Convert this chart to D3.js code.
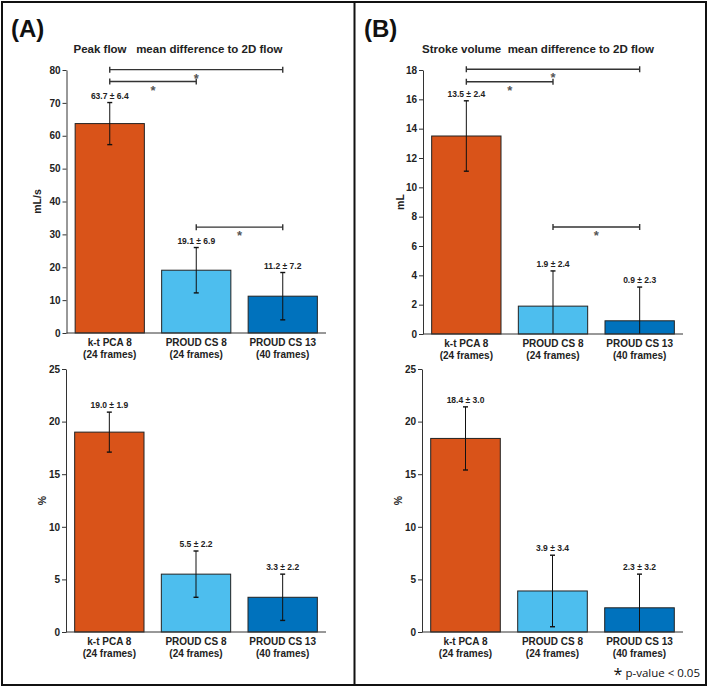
<!DOCTYPE html>
<html>
<head>
<meta charset="utf-8">
<script src="https://cdn.jsdelivr.net/npm/d3@7"></script>
<style>
  body { margin: 0; background: #fff; }
  svg { font-family: "Liberation Sans", Arial, sans-serif; }
</style>
</head>
<body>
<div id="chart"></div>
<script>
// categories shared by all four panels
const categories = ["k-t PCA 8", "PROUD CS 8", "PROUD CS 13"];
const frames = ["(24 frames)", "(24 frames)", "(40 frames)"];
const barColors = ["#D95319", "#4DBEEE", "#0072BD"];

// (A) peak flow
const peakFlowMean = [63.7, 19.1, 11.2];
const peakFlowSD = [6.4, 6.9, 7.2];
const peakFlowPctMean = [19.0, 5.5, 3.3];
const peakFlowPctSD = [1.9, 2.2, 2.2];

// (B) stroke volume
const strokeVolMean = [13.5, 1.9, 0.9];
const strokeVolSD = [2.4, 2.4, 2.3];
const strokeVolPctMean = [18.4, 3.9, 2.3];
const strokeVolPctSD = [3.0, 3.4, 3.2];

// significance brackets: pairs of bar indices + level in data units
const sigPairs = [[0, 2], [0, 1], [1, 2]];
const sigLevelsA = [80.1, 76.5, 32.2];
const sigLevelsB = [18.05, 17.2, 7.3];

const W = 709, H = 688;
const svg = d3.select("#chart").append("svg")
  .attr("width", W)
  .attr("height", H);

svg.append("rect")
  .attr("width", W).attr("height", H).attr("fill", "#fff");

// frame + divider
svg.append("rect")
  .attr("x", 2).attr("y", 2).attr("width", 704).attr("height", 683)
  .attr("fill", "none").attr("stroke", "#111").attr("stroke-width", 2);
svg.append("line")
  .attr("x1", 354.5).attr("x2", 354.5).attr("y1", 2).attr("y2", 685)
  .attr("stroke", "#111").attr("stroke-width", 2);

const textCol = "#222";

function drawChart(opts) {
  const x = d3.scaleBand()
    .domain(d3.range(categories.length))
    .range(opts.xRange)
    .paddingInner(0.2)
    .paddingOuter(0.1);

  const y = d3.scaleLinear()
    .domain([0, opts.yMax])
    .range(opts.yRange);

  const g = svg.append("g");

  // bars
  g.selectAll(".bar")
    .data(opts.mean)
    .enter()
    .append("rect")
    .attr("x", (d, i) => x(i))
    .attr("y", d => y(d))
    .attr("width", x.bandwidth())
    .attr("height", d => y(0) - y(d))
    .attr("fill", (d, i) => barColors[i])
    .attr("stroke", "#222")
    .attr("stroke-width", 1);

  // error bars (clipped at zero)
  const cx = i => x(i) + x.bandwidth() / 2;
  opts.mean.forEach((m, i) => {
    const hi = m + opts.sd[i];
    const lo = Math.max(0, m - opts.sd[i]);
    g.append("line")
      .attr("x1", cx(i)).attr("x2", cx(i))
      .attr("y1", y(hi)).attr("y2", y(lo))
      .attr("stroke", "#111").attr("stroke-width", 1);
    g.append("line")
      .attr("x1", cx(i) - 2.5).attr("x2", cx(i) + 2.5)
      .attr("y1", y(hi)).attr("y2", y(hi))
      .attr("stroke", "#111").attr("stroke-width", 1.4);
    if (m - opts.sd[i] > 0) {
      g.append("line")
        .attr("x1", cx(i) - 2.5).attr("x2", cx(i) + 2.5)
        .attr("y1", y(lo)).attr("y2", y(lo))
        .attr("stroke", "#111").attr("stroke-width", 1.4);
    }
    g.append("text")
      .attr("x", cx(i))
      .attr("y", y(hi) - 4)
      .attr("text-anchor", "middle")
      .attr("font-size", "8.5px")
      .attr("font-weight", "bold")
      .attr("fill", textCol)
      .text(m.toFixed(1) + " \u00B1 " + opts.sd[i].toFixed(1));
  });

  // y axis
  const yAxis = d3.axisLeft(y)
    .tickValues(d3.range(0, opts.yMax + 0.001, opts.yStep))
    .tickSize(4)
    .tickSizeOuter(0);
  const ya = g.append("g")
    .attr("transform", `translate(${opts.xRange[0]},0)`)
    .call(yAxis);
  ya.select(".domain").attr("stroke", "#333");
  ya.selectAll(".tick line").attr("stroke", "#333");
  ya.selectAll(".tick text")
    .attr("font-size", "10px")
    .attr("font-weight", "bold")
    .attr("fill", textCol)
    .attr("x", -6);

  // x axis line
  g.append("line")
    .attr("x1", opts.xRange[0]).attr("x2", opts.xRange[1])
    .attr("y1", y(0)).attr("y2", y(0))
    .attr("stroke", "#333").attr("stroke-width", 1);

  // category labels
  categories.forEach((c, i) => {
    g.append("text")
      .attr("x", cx(i)).attr("y", y(0) + 13)
      .attr("text-anchor", "middle")
      .attr("font-size", "10px").attr("font-weight", "bold")
      .attr("fill", textCol)
      .text(c);
    g.append("text")
      .attr("x", cx(i)).attr("y", y(0) + 24.5)
      .attr("text-anchor", "middle")
      .attr("font-size", "10px").attr("font-weight", "bold")
      .attr("fill", textCol)
      .text(frames[i]);
  });

  // y label
  const ly = (opts.yRange[0] + opts.yRange[1]) / 2;
  const lx = opts.xRange[0] - opts.labelOffset;
  g.append("text")
    .attr("transform", `translate(${lx},${ly}) rotate(-90)`)
    .attr("text-anchor", "middle")
    .attr("dy", "0.35em")
    .attr("font-size", "10.5px").attr("font-weight", "bold")
    .attr("fill", textCol)
    .text(opts.yLabel);

  // significance brackets
  if (opts.sigLevels) {
    sigPairs.forEach((p, k) => {
      const yy = y(opts.sigLevels[k]);
      const x1 = cx(p[0]), x2 = cx(p[1]);
      g.append("path")
        .attr("d", `M${x1},${yy - 3}V${yy + 3}M${x1},${yy}H${x2}M${x2},${yy - 3}V${yy + 3}`)
        .attr("fill", "none")
        .attr("stroke", "#333")
        .attr("stroke-width", 1.4);
      g.append("text")
        .attr("x", (x1 + x2) / 2)
        .attr("y", yy + 13)
        .attr("text-anchor", "middle")
        .attr("font-size", "13px").attr("font-weight", "bold")
        .attr("fill", "#555")
        .text("*");
    });
  }
}

// panel letters and titles
svg.append("text")
  .attr("x", 11).attr("y", 37)
  .attr("font-size", "24px").attr("font-weight", "bold")
  .attr("fill", "#111")
  .text("(A)");
svg.append("text")
  .attr("x", 364).attr("y", 37)
  .attr("font-size", "24px").attr("font-weight", "bold")
  .attr("fill", "#111")
  .text("(B)");

svg.append("text")
  .attr("x", 178).attr("y", 53)
  .attr("text-anchor", "middle")
  .attr("xml:space", "preserve")
  .style("white-space", "pre")
  .attr("font-size", "11.5px").attr("font-weight", "bold")
  .attr("fill", textCol)
  .text("Peak flow   mean difference to 2D flow");
svg.append("text")
  .attr("x", 538).attr("y", 53)
  .attr("text-anchor", "middle")
  .attr("xml:space", "preserve")
  .style("white-space", "pre")
  .attr("font-size", "11.5px").attr("font-weight", "bold")
  .attr("fill", textCol)
  .text("Stroke volume  mean difference to 2D flow");

drawChart({
  mean: peakFlowMean, sd: peakFlowSD, yMax: 80, yStep: 10,
  xRange: [66.5, 326], yRange: [333, 70], yLabel: "mL/s",
  labelOffset: 29, sigLevels: sigLevelsA
});
drawChart({
  mean: peakFlowPctMean, sd: peakFlowPctSD, yMax: 25, yStep: 5,
  xRange: [66, 326], yRange: [632, 369], yLabel: "%",
  labelOffset: 24
});
drawChart({
  mean: strokeVolMean, sd: strokeVolSD, yMax: 18, yStep: 2,
  xRange: [423, 683], yRange: [334, 70], yLabel: "mL",
  labelOffset: 23, sigLevels: sigLevelsB
});
drawChart({
  mean: strokeVolPctMean, sd: strokeVolPctSD, yMax: 25, yStep: 5,
  xRange: [422, 683], yRange: [632, 369], yLabel: "%",
  labelOffset: 24
});

// footnote
const fn = svg.append("text")
  .attr("x", 700).attr("y", 677)
  .attr("text-anchor", "end")
  .attr("font-family", "'Open Sans', sans-serif")
  .attr("fill", "#111");
fn.append("tspan").attr("font-size", "16px").attr("dy", "3").text("*");
fn.append("tspan").attr("font-size", "11.5px").attr("dy", "-3").text(" p-value < 0.05");
</script>
</body>
</html>
